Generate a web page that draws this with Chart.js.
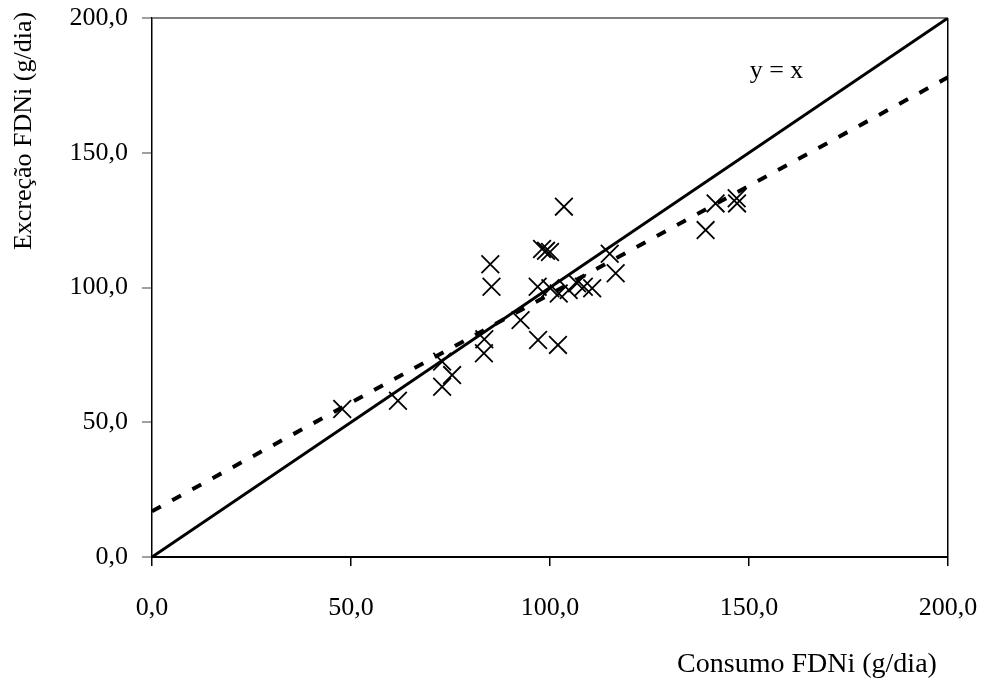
<!DOCTYPE html>
<html><head><meta charset="utf-8">
<script src="https://cdn.jsdelivr.net/npm/chart.js@4"></script>
<style>html,body{margin:0;padding:0;background:#fff}#wrap{width:988px;height:691px}</style>
</head><body><div id="wrap"><canvas id="c" width="988" height="691"></canvas></div>
<script>
// Consumo FDNi (x) and Excreção FDNi (y), g/dia
const consumo  = [47.8, 61.8, 72.9, 75.4, 72.9, 83.5, 83.4, 85.0, 85.3, 92.6, 96.9, 97.0, 98.0, 99.0, 100.0, 100.1, 102.0, 102.2, 103.5, 104.7, 106.8, 108.5, 110.6, 115.0, 116.5, 139.1, 141.6, 146.9, 147.0];
const excrecao = [54.9, 58.0, 63.2, 67.5, 72.5, 80.8, 75.6, 108.6, 100.3, 87.9, 100.3, 80.5, 114.3, 113.6, 113.2, 99.7, 78.7, 97.8, 130.0, 99.1, 101.6, 100.3, 99.7, 112.5, 105.3, 121.3, 131.2, 133.1, 131.2];
const identityX = [0, 200];
const identityY = [0, 200];
const trendX = [0, 200];
const trendY = [17.0, 178.0];
const tickValues = [0, 50, 100, 150, 200];
const xTitle = 'Consumo FDNi (g/dia)';
const yTitle = 'Excreção FDNi (g/dia)';
const lineLabel = 'y = x';
const lineLabelPos = [156.9, 180.3];

const FONT = 'Liberation Serif, Times New Roman, serif';
const fmt = v => Number(v).toFixed(1).replace('.', ',');

const textPlugin = {
  id: 'texts',
  afterDraw(chart) {
    const ctx = chart.ctx;
    ctx.save();
    ctx.fillStyle = '#000';
    ctx.textAlign = 'center';
    ctx.textBaseline = 'middle';
    ctx.font = '28px ' + FONT;
    ctx.fillText(xTitle, 807, 665);
    ctx.font = '26px ' + FONT;
    const xs = chart.scales.x, ys = chart.scales.y;
    ctx.fillText(lineLabel, xs.getPixelForValue(lineLabelPos[0]), ys.getPixelForValue(lineLabelPos[1]));
    ctx.translate(24, 131);
    ctx.rotate(-Math.PI / 2);
    ctx.fillText(yTitle, 0, 0);
    ctx.restore();
  }
};

new Chart(document.getElementById('c'), {
  data: {
    datasets: [
      {
        type: 'scatter',
        data: consumo.map((x, i) => ({x, y: excrecao[i]})),
        pointStyle: 'crossRot',
        pointRadius: 12.5,
        borderColor: '#000',
        backgroundColor: '#000',
        borderWidth: 1.8,
        showLine: false
      },
      {
        type: 'line',
        data: identityX.map((x, i) => ({x, y: identityY[i]})),
        borderColor: '#000',
        borderWidth: 3,
        pointRadius: 0,
        fill: false
      },
      {
        type: 'line',
        data: trendX.map((x, i) => ({x, y: trendY[i]})),
        borderColor: '#000',
        borderWidth: 4,
        borderDash: [10, 13],
        borderCapStyle: 'butt',
        pointRadius: 0,
        fill: false
      }
    ]
  },
  options: {
    responsive: false,
    animation: false,
    devicePixelRatio: 1,
    layout: { padding: { left: 0, top: 18, right: 40, bottom: 0 } },
    plugins: { legend: { display: false }, tooltip: { enabled: false } },
    scales: {
      x: {
        type: 'linear', min: 0, max: 200,
        afterBuildTicks: s => { s.ticks = tickValues.map(v => ({value: v})); },
        afterFit: s => { s.height = 134; s.paddingLeft = 0; s.paddingRight = 0; },
        ticks: { callback: fmt, color: '#000', font: { family: FONT, size: 26 }, padding: 27, maxRotation: 0 },
        grid: {
          color: c => (c.tick && c.tick.value === 200) ? '#000' : 'rgba(0,0,0,0)',
          lineWidth: 1.5,
          tickLength: 9,
          tickColor: '#000',
          tickWidth: 1.5
        },
        border: { color: '#000', width: 2 }
      },
      y: {
        type: 'linear', min: 0, max: 200,
        afterBuildTicks: s => { s.ticks = tickValues.map(v => ({value: v})); },
        afterFit: s => { s.width = 152; s.paddingTop = 0; s.paddingBottom = 0; },
        ticks: { callback: fmt, color: '#000', font: { family: FONT, size: 26 }, padding: 14 },
        grid: {
          color: c => (c.tick && c.tick.value === 200) ? '#808080' : 'rgba(0,0,0,0)',
          lineWidth: 2,
          tickLength: 10,
          tickColor: '#808080',
          tickWidth: 1.5
        },
        border: { color: '#000', width: 1.5 }
      }
    }
  },
  plugins: [textPlugin]
});
</script>
</body></html>
